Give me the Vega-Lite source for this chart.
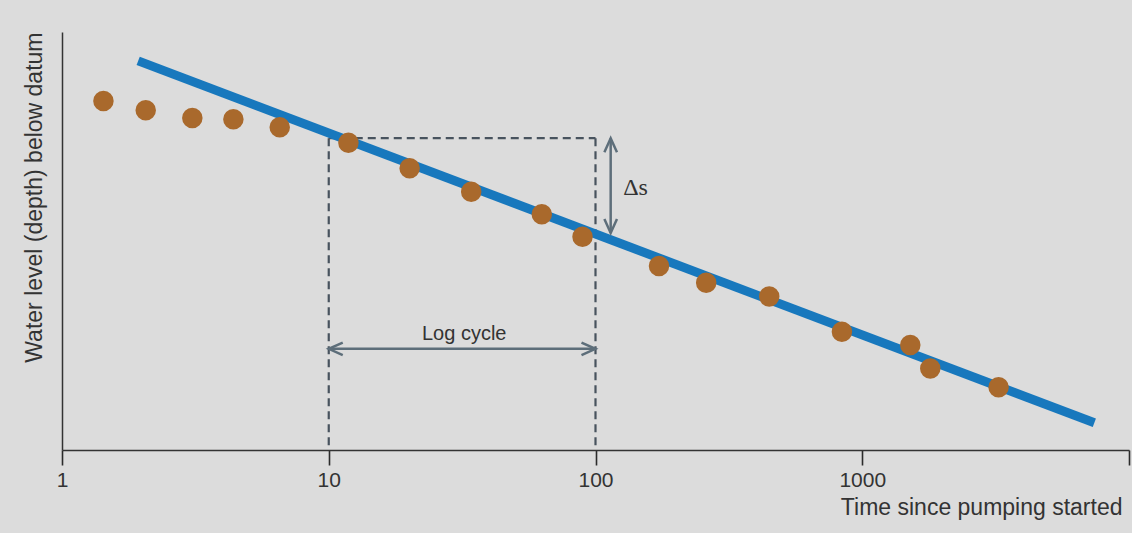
{
  "$schema": "https://vega.github.io/schema/vega-lite/v6.json",
  "width": 1067,
  "height": 418,
  "autosize": {"type": "none"},
  "padding": {"left": 62, "top": 32, "right": 3, "bottom": 83},
  "background": "#dcdcdc",
  "config": {
    "view": {"stroke": null},
    "axis": {
      "grid": false,
      "domainColor": "#333333",
      "domainWidth": 1.5,
      "labelColor": "#333333",
      "titleColor": "#333333",
      "titleFont": "Liberation Sans",
      "titleFontWeight": "normal",
      "titleFontSize": 23,
      "labelFont": "Liberation Sans",
      "labelFontSize": 21
    }
  },
  "datasets": {
    "observations": [
      {"t": 1.43, "v": 1.65},
      {"t": 2.06, "v": 1.87},
      {"t": 3.08, "v": 2.06},
      {"t": 4.39, "v": 2.09},
      {"t": 6.55, "v": 2.28},
      {"t": 11.85, "v": 2.65},
      {"t": 20.1, "v": 3.26},
      {"t": 34.2, "v": 3.82},
      {"t": 62.9, "v": 4.36},
      {"t": 89.4, "v": 4.90},
      {"t": 173, "v": 5.60},
      {"t": 260, "v": 6.00},
      {"t": 448, "v": 6.33},
      {"t": 839, "v": 7.17},
      {"t": 1514, "v": 7.49},
      {"t": 1799, "v": 8.05},
      {"t": 3244, "v": 8.50}
    ],
    "fit": [
      {"t": 1.93, "v": 0.69},
      {"t": 7413, "v": 9.35}
    ],
    "cycle_box": [
      {"t": 10, "t2": 10, "v": 2.54, "v2": 10},
      {"t": 100, "t2": 100, "v": 2.54, "v2": 10},
      {"t": 10, "t2": 100, "v": 2.54, "v2": 2.54}
    ],
    "arrows": [
      {"t": 114, "t2": 114, "v": 2.54, "v2": 4.81},
      {"t": 10, "t2": 100, "v": 7.58, "v2": 7.58}
    ],
    "heads": [
      {"t": 114, "v": 2.54, "dir": "up"},
      {"t": 114, "v": 4.81, "dir": "down"},
      {"t": 10, "v": 7.58, "dir": "left"},
      {"t": 100, "v": 7.58, "dir": "right"}
    ]
  },
  "encoding": {
    "x": {
      "field": "t",
      "type": "quantitative",
      "scale": {"type": "log", "domain": [1, 10000], "nice": false},
      "axis": {
        "values": [1, 10, 100, 1000, 10000],
        "format": "d",
        "labelExpr": "datum.value > 5000 ? '' : datum.label",
        "labelFlush": false,
        "labelOverlap": false,
        "ticks": true,
        "tickColor": "#2b2b2b",
        "tickWidth": 1.6,
        "tickOpacity": 1,
        "tickSize": 15,
        "labelPadding": 21,
        "labelBaseline": "alphabetic",
        "title": "Time since pumping started",
        "titleAlign": "right",
        "titleBaseline": "alphabetic",
        "titleX": 1060,
        "titleY": 64
      }
    },
    "y": {
      "field": "v",
      "type": "quantitative",
      "scale": {"domain": [0, 10], "reverse": true, "nice": false, "zero": false},
      "axis": {
        "ticks": false,
        "labels": false,
        "title": "Water level (depth) below datum",
        "titleAngle": -90,
        "titleAlign": "right",
        "titleBaseline": "alphabetic",
        "titleX": -21,
        "titleY": 0
      }
    }
  },
  "layer": [
    {
      "data": {"name": "cycle_box"},
      "mark": {"type": "rule", "color": "#48535e", "strokeWidth": 2.2, "strokeDash": [8, 5]},
      "encoding": {"x2": {"field": "t2"}, "y2": {"field": "v2"}}
    },
    {
      "data": {"name": "fit"},
      "mark": {"type": "line", "color": "#1878bd", "strokeWidth": 9, "strokeCap": "butt"},
      "encoding": {}
    },
    {
      "data": {"name": "observations"},
      "mark": {"type": "circle", "color": "#a9692c", "size": 420, "opacity": 1}
    },
    {
      "data": {"name": "arrows"},
      "mark": {"type": "rule", "color": "#5d6e7a", "strokeWidth": 2.5},
      "encoding": {"x2": {"field": "t2"}, "y2": {"field": "v2"}}
    },
    {
      "data": {"name": "heads"},
      "mark": {"type": "point", "filled": false, "color": "#5d6e7a", "strokeWidth": 2.5, "size": 784, "opacity": 1},
      "encoding": {
        "shape": {
          "field": "dir",
          "type": "nominal",
          "legend": null,
          "scale": {
            "domain": ["up", "down", "left", "right"],
            "range": [
              "M-0.45,1L0,0L0.45,1",
              "M-0.45,-1L0,0L0.45,-1",
              "M1,-0.45L0,0L1,0.45",
              "M-1,-0.45L0,0L-1,0.45"
            ]
          }
        }
      }
    },
    {
      "data": {"values": [{"t": 32.2, "v": 7.37, "label": "Log cycle"}]},
      "mark": {"type": "text", "font": "Liberation Sans", "fontSize": 20, "align": "center", "baseline": "alphabetic", "color": "#333333"},
      "encoding": {"text": {"field": "label"}}
    },
    {
      "data": {"values": [{"t": 127, "v": 3.9, "label": "Δs"}]},
      "mark": {"type": "text", "font": "Liberation Serif", "fontSize": 24, "align": "left", "baseline": "alphabetic", "color": "#333333"},
      "encoding": {"text": {"field": "label"}}
    }
  ]
}
